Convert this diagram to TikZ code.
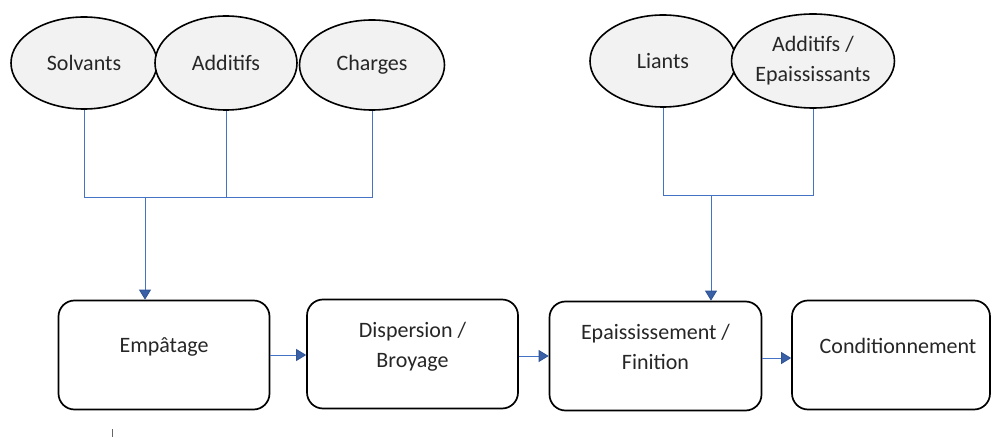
\documentclass[tikz,border=0pt]{standalone}
\usepackage{fontspec}
\setmainfont{Carlito}
\usetikzlibrary{shapes.geometric,arrows.meta}
\definecolor{lnk}{HTML}{4472C4}
\definecolor{tipc}{HTML}{2F5597}
\definecolor{ellf}{HTML}{F2F2F2}
\definecolor{txt}{HTML}{262626}
\tikzset{
  ell/.style={ellipse, draw=black, fill=ellf, line width=1.6, inner sep=0,
    minimum width=146, minimum height=92, align=center, text=txt},
  stepbox/.style={draw=black, rounded corners=16, line width=1.7, minimum height=109,
    align=center, text depth=19, text=txt},
  link/.style={draw=lnk, line width=0.9},
  arr/.style={link, -{Triangle[length=10,width=12,color=tipc,fill=lnk!85!black]}},
}
\begin{document}
\begin{tikzpicture}[x=1pt,y=-1pt,font=\fontsize{22}{30}\selectfont]
\useasboundingbox (0,0) rectangle (992,438);
% ellipses
\node[ell] (sol) at (84,63) {Solvants};
\node[ell, minimum width=142, minimum height=94] (add) at (226,63) {Additifs};
\node[ell, minimum width=145, minimum height=90] (cha) at (372,65) {Charges};
\node[ell] (lia) at (663,61) {Liants};
\node[ell, minimum width=145, minimum height=94] (aep) at (813,61) {Additifs /\\Epaississants};
% boxes
\node[stepbox, minimum width=211] (emp) at (164,355) {Empâtage};
\node[stepbox, minimum width=211] (dis) at (412.5,354) {Dispersion /\\Broyage};
\node[stepbox, minimum width=212] (epa) at (655.5,356) {Epaississement /\\Finition};
\node[stepbox, minimum width=198] (con) at (891,355) {\hspace*{14pt}Conditionnement};
% junctions
\coordinate (j1) at (145,197);
\coordinate (j2) at (711,195);
\draw[link] (sol.south) |- (j1);
\draw[link] (add.south) -- (add.south |- j1);
\draw[link] (cha.south) |- (j1);
\draw[arr] (j1) -- (j1 |- emp.north);
\draw[link] (lia.south) |- (j2);
\draw[link] (aep.south) |- (j2);
\draw[arr] (j2) -- (j2 |- epa.north);
% horizontal arrows
\draw[arr] (emp.east) -- (emp.east -| dis.west);
\draw[arr] ([yshift=-2]dis.east) -- ([yshift=-2]dis.east -| epa.west);
\draw[arr] ([yshift=-2]epa.east) -- ([yshift=-2]epa.east -| con.west);
% stray tick
\coordinate (t1) at (112,429);
\coordinate (t2) at (112,437);
\draw[line width=1, black!60] (t1) -- (t2);
\end{tikzpicture}
\end{document}
